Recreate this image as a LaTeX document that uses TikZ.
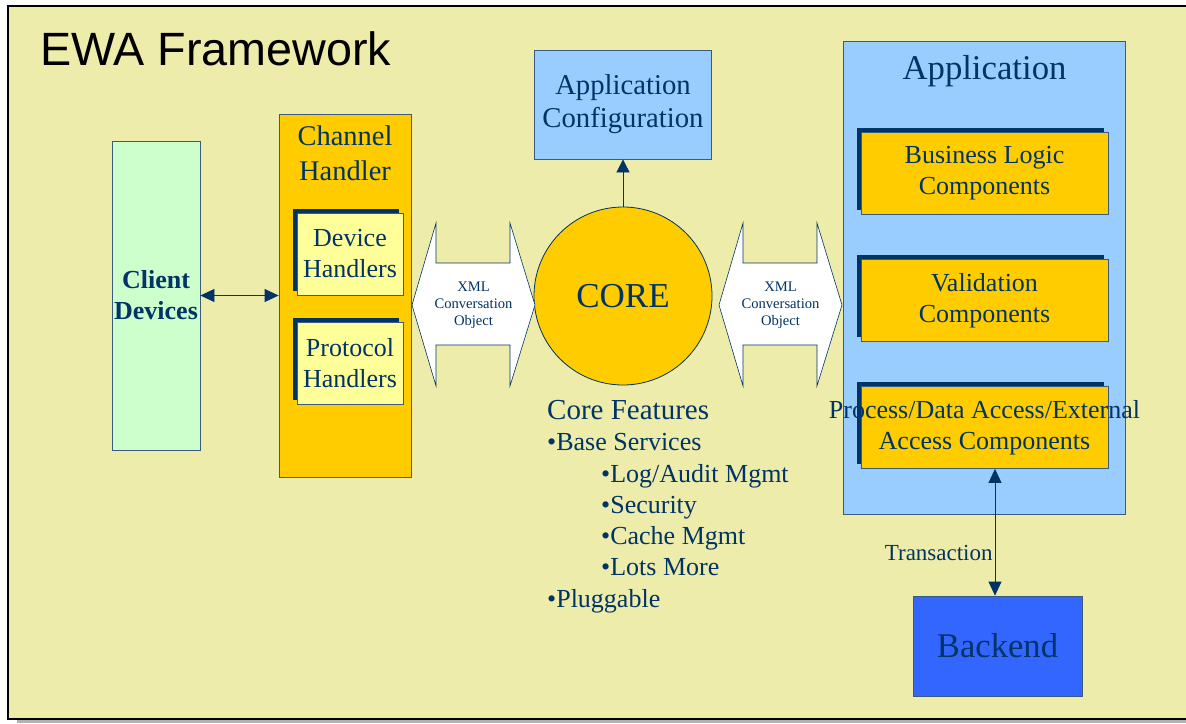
\documentclass[tikz,border=0pt]{standalone}
\usepackage{fontspec}
\setmainfont{Liberation Serif}
\newfontfamily\arialfont{Liberation Sans}
\usetikzlibrary{arrows.meta,positioning,shadows}
\definecolor{bgyellow}{HTML}{EEECAA}
\definecolor{gold}{HTML}{FFCC00}
\definecolor{paleyellow}{HTML}{FFFF99}
\definecolor{mint}{HTML}{CCFFCC}
\definecolor{skyblue}{HTML}{99CCFF}
\definecolor{backblue}{HTML}{3366FF}
\definecolor{navy}{HTML}{003366}
\definecolor{edge}{HTML}{3A5A80}
\newcommand{\fs}[2]{\fontsize{#1}{#2}\selectfont}

\begin{document}
\begin{tikzpicture}[x=1pt,y=-1pt,every node/.style={text=navy,inner sep=0pt},
  box/.style={draw=edge,line width=0.8pt,align=center},
  comp/.style={box,fill=gold,minimum width=247pt,minimum height=82pt,font=\fs{26}{31},
    drop shadow={shadow xshift=-4.5pt,shadow yshift=4.5pt,fill=navy,opacity=1}},
  hand/.style={comp,fill=paleyellow,minimum width=106pt},
  xml/.style={draw=navy,fill=white,line width=0.6pt},
  xmltxt/.style={font=\fs{14.6}{17},align=center},
  dbl/.style={{Triangle[length=14pt,width=13pt]}-{Triangle[length=14pt,width=13pt]},navy,line width=0.8pt},
  one/.style={-{Triangle[length=13pt,width=13pt]},navy,line width=0.8pt}]
\useasboundingbox[fill=white] (0,0) rectangle (1186,723);
\fill[black!30] (17,12) rectangle (1200,723);
\draw[line width=2.5pt,fill=bgyellow] (8,6) rectangle (1195,719);
\node[font=\arialfont\fs{46.7}{50},text=black,anchor=base west] (title) at (40,65) {EWA Framework};
% left side
\node[box,fill=mint,minimum width=88pt,minimum height=309pt,font=\bfseries\fs{26}{31}] (client) at (156,295.5) {Client\\Devices};
\node[box,fill=gold,minimum width=132pt,minimum height=363pt] (chan) at (345,295.5) {};
\node[font=\fs{28.5}{35},align=center,anchor=north] (chantxt) at (345,126) {Channel\\Handler};
\node[hand] (dev) at (350,254) {Device\\Handlers};
\node[hand] (prot) at (350,363) {Protocol\\Handlers};
\draw[dbl] (client.east) -- (chan.west);
% core
\node[circle,draw=navy,fill=gold,line width=0.8pt,minimum size=178pt,font=\fs{35}{40}] (core) at (623,296) {CORE};
\node[box,fill=skyblue,minimum width=177pt,minimum height=109pt,font=\fs{28.7}{33}] (conf) at (623,104.5) {Application\\Configuration};
\draw[one] (core.north) -- (conf.south);
\foreach \x/\n in {412/xmlL,719/xmlR}{
  \draw[xml] (\x,305) -- ++(24,-82) -- ++(0,40) -- ++(74,0) -- ++(0,-40) -- ++(25,82)
    -- ++(-25,81) -- ++(0,-41) -- ++(-74,0) -- ++(0,41) -- cycle;
  \node[xmltxt] (\n) at (\x+61.5,305) {XML\\Conversation\\Object};
}
\node[font=\fs{26}{31.3},align=left,anchor=north west] (feat) at (547,400) {{\fs{29}{31.3}Core Features}\\•Base Services\\
  \hspace*{54pt}•Log/Audit Mgmt\\\hspace*{54pt}•Security\\\hspace*{54pt}•Cache Mgmt\\\hspace*{54pt}•Lots More\\•Pluggable};
% application side
\node[box,fill=skyblue,minimum width=282pt,minimum height=473pt] (app) at (984,277.5) {};
\node[font=\fs{34.7}{40},anchor=base] (apptxt) at (984.5,79) {Application};
\node[comp] (biz) at (984.5,173) {Business Logic\\Components};
\node[comp] (val) at (984.5,300.5) {Validation\\Components};
\node[comp] (proc) at (984.5,427.5) {};
\node[font=\fs{26}{31},align=center] (proctxt) at (proc) {Process/Data Access/External\\Access Components};
\node[box,fill=backblue,minimum width=169pt,minimum height=100pt,font=\fs{34.6}{40}] (back) at (997.5,646) {Backend};
\draw[dbl] ([xshift=10.5pt]proc.south) -- ([xshift=10.5pt]proc.south |- back.north)
  node[pos=0.66,left=2pt,font=\fs{23}{26}] (trans) {Transaction};
\end{tikzpicture}
\end{document}
